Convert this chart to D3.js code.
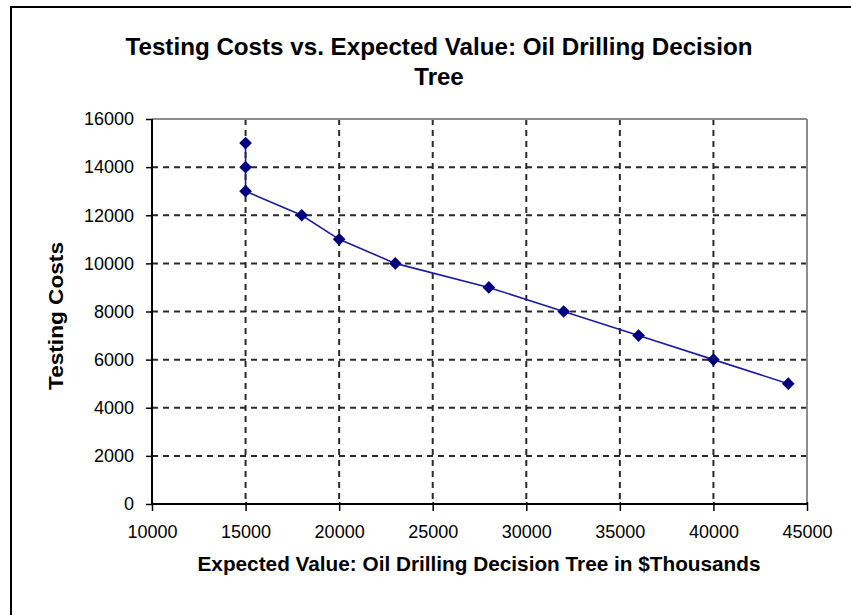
<!DOCTYPE html>
<html>
<head>
<meta charset="utf-8">
<script src="https://cdn.jsdelivr.net/npm/d3@7"></script>
<style>
  html, body { margin: 0; padding: 0; background: #fff; }
  svg { display: block; }
  text { font-family: "Liberation Sans", Arial, sans-serif; fill: #000; }
</style>
</head>
<body>
<svg id="chart" width="851" height="615"></svg>
<script>
// ---- data ----
const expectedValue = [15000, 15000, 15000, 18000, 20000, 23000, 28000, 32000, 36000, 40000, 44000];
const testingCosts  = [15000, 14000, 13000, 12000, 11000, 10000, 9000, 8000, 7000, 6000, 5000];
const xTicks = [10000, 15000, 20000, 25000, 30000, 35000, 40000, 45000];
const yTicks = [0, 2000, 4000, 6000, 8000, 10000, 12000, 14000, 16000];
const titleLines = ["Testing Costs vs. Expected Value: Oil Drilling Decision", "Tree"];
const xLabel = "Expected Value: Oil Drilling Decision Tree in $Thousands";
const yLabel = "Testing Costs";

const svg = d3.select("#chart");
const W = 851, H = 615;
const plot = { left: 152, right: 807, top: 119, bottom: 504 };

svg.append("rect").attr("width", W).attr("height", H).attr("fill", "#fff");

// outer border (top & left visible)
svg.append("line").attr("x1", 10).attr("x2", W).attr("y1", 7).attr("y2", 7)
  .attr("stroke", "#000").attr("stroke-width", 2);
svg.append("line").attr("x1", 11).attr("x2", 11).attr("y1", 6).attr("y2", H)
  .attr("stroke", "#000").attr("stroke-width", 2);

const x = d3.scaleLinear().domain([10000, 45000]).range([plot.left, plot.right]);
const y = d3.scaleLinear().domain([0, 16000]).range([plot.bottom, plot.top]);

// gridlines
const grid = svg.append("g").attr("stroke", "#2a2a2a").attr("stroke-width", 2)
  .attr("stroke-dasharray", "6,5");
grid.selectAll("line.h").data(yTicks.filter(t => t > 0 && t < 16000)).enter()
  .append("line").attr("x1", plot.left).attr("x2", plot.right)
  .attr("y1", d => y(d)).attr("y2", d => y(d));
grid.selectAll("line.v").data(xTicks.filter(t => t > 10000 && t < 45000)).enter()
  .append("line").attr("y1", plot.top).attr("y2", plot.bottom)
  .attr("x1", d => x(d)).attr("x2", d => x(d));

// plot border (top/right gray)
svg.append("line").attr("x1", plot.left).attr("x2", plot.right).attr("y1", plot.top).attr("y2", plot.top)
  .attr("stroke", "#8c8c8c").attr("stroke-width", 2);
svg.append("line").attr("x1", plot.right).attr("x2", plot.right).attr("y1", plot.top).attr("y2", plot.bottom)
  .attr("stroke", "#8c8c8c").attr("stroke-width", 2);

// axes
const xAxis = d3.axisBottom(x).tickValues(xTicks).tickSize(7).tickPadding(14).tickFormat(d3.format("d"));
const gx = svg.append("g").attr("transform", `translate(0,${plot.bottom})`).call(xAxis);
gx.select(".domain").attr("stroke", "#000").attr("stroke-width", 2);
gx.selectAll(".tick line").attr("stroke", "#000").attr("stroke-width", 1.5).attr("y1", -2);
gx.selectAll(".tick text").attr("font-size", 18).attr("font-family", "Liberation Sans, Arial, sans-serif").attr("fill", "#000");

const yAxis = d3.axisLeft(y).tickValues(yTicks).tickSize(6).tickPadding(12).tickFormat(d3.format("d"));
const gy = svg.append("g").attr("transform", `translate(${plot.left},0)`).call(yAxis);
gy.select(".domain").attr("stroke", "#000").attr("stroke-width", 2);
gy.selectAll(".tick line").attr("stroke", "#000").attr("stroke-width", 1.5);
gy.selectAll(".tick text").attr("font-size", 18).attr("font-family", "Liberation Sans, Arial, sans-serif").attr("fill", "#000");
gx.select(".domain").attr("d", `M${plot.left},0H${plot.right}`);
gy.select(".domain").attr("d", `M0,${plot.bottom}V${plot.top}`);

// line + markers
const pts = expectedValue.map((v, i) => ({ x: v, y: testingCosts[i] }));
const line = d3.line().x(d => x(d.x)).y(d => y(d.y));
svg.append("path").datum(pts).attr("d", line).attr("fill", "none")
  .attr("stroke", "#1c1c9c").attr("stroke-width", 1.6);
const diamond = d3.symbol().type(d3.symbolSquare).size(80);
svg.selectAll("path.pt").data(pts).enter().append("path")
  .attr("d", diamond)
  .attr("transform", d => `translate(${x(d.x)},${y(d.y)}) rotate(45)`)
  .attr("fill", "#000080");

// title
svg.append("text").attr("x", 439).attr("y", 55).attr("text-anchor", "middle")
  .attr("font-size", 24).attr("font-weight", "bold")
  .attr("textLength", 627).attr("lengthAdjust", "spacingAndGlyphs")
  .text(titleLines[0]);
svg.append("text").attr("x", 439).attr("y", 85).attr("text-anchor", "middle")
  .attr("font-size", 24).attr("font-weight", "bold")
  .text(titleLines[1]);

// axis labels
svg.append("text").attr("x", 479).attr("y", 571).attr("text-anchor", "middle")
  .attr("font-size", 21).attr("font-weight", "bold")
  .attr("textLength", 563).attr("lengthAdjust", "spacingAndGlyphs")
  .text(xLabel);
svg.append("text").attr("transform", "translate(63,316) rotate(-90)").attr("text-anchor", "middle")
  .attr("font-size", 21).attr("font-weight", "bold")
  .attr("textLength", 148).attr("lengthAdjust", "spacingAndGlyphs")
  .text(yLabel);
</script>
</body>
</html>
